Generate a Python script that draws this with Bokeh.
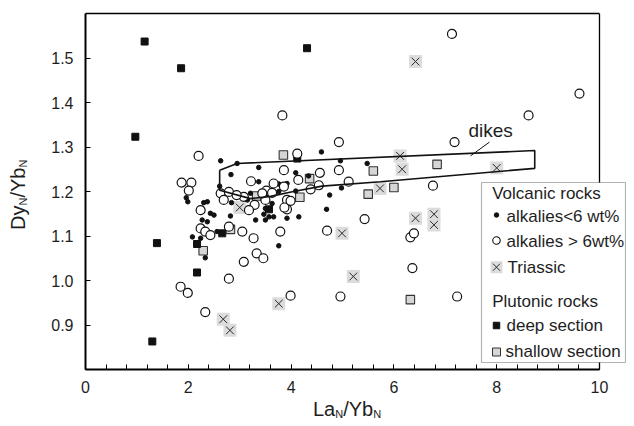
from bokeh.plotting import figure
from bokeh.layouts import row, column
from bokeh.models import (Range1d, FixedTicker, Label, BoxAnnotation, PrintfTickFormatter,
                          Div, Span, LinearAxis)
from bokeh.embed import file_html
from bokeh.resources import INLINE

# ---------------- data ----------------
deep_x = [1.15, 1.86, 0.97, 4.31, 1.39, 2.17, 1.30, 2.17, 2.66, 3.57, 4.12]
deep_y = [1.537, 1.477, 1.323, 1.522, 1.084, 1.018, 0.863, 1.082, 1.106, 1.160, 1.274]

shallow_x = [3.85, 4.36, 4.17, 5.60, 5.50, 6.84, 6.00, 3.33, 2.82, 2.29, 6.32]
shallow_y = [1.282, 1.229, 1.187, 1.246, 1.194, 1.261, 1.209, 1.190, 1.115, 1.067, 0.957]

tri_x = [6.42, 6.12, 6.16, 8.00, 5.73, 6.42, 6.78, 6.78, 4.99, 5.21, 3.76, 2.68, 2.81, 3.00]
tri_y = [1.492, 1.280, 1.250, 1.253, 1.207, 1.140, 1.149, 1.125, 1.106, 1.009, 0.948, 0.913, 0.888, 1.164]

hi_x = [7.13, 9.61, 8.62, 7.18, 4.93, 6.76, 4.93, 5.12, 4.56, 4.54, 4.38, 5.43, 4.70, 6.32, 6.39,
        6.36, 4.96, 7.23, 3.99, 2.79, 1.85, 1.99, 2.33, 3.08, 3.33, 3.46, 3.79, 3.27, 3.05, 2.79,
        2.24, 2.33, 2.43, 2.24, 3.92, 2.20, 3.83, 4.12, 1.87, 2.06, 2.01, 3.22, 3.86, 4.14, 3.66,
        3.86, 3.52, 3.29, 3.08, 2.63, 2.79, 2.69, 3.92, 3.87, 2.94, 3.18, 3.50, 3.99, 3.44, 3.63]
hi_y = [1.554, 1.420, 1.371, 1.311, 1.311, 1.213, 1.248, 1.222, 1.242, 1.214, 1.205, 1.138, 1.112, 1.097, 1.106,
        1.028, 0.964, 0.964, 0.966, 1.004, 0.986, 0.972, 0.929, 1.042, 1.061, 1.050, 1.110, 1.095, 1.110, 1.121,
        1.117, 1.110, 1.102, 1.158, 1.160, 1.280, 1.371, 1.285, 1.220, 1.220, 1.202, 1.223, 1.248, 1.226, 1.218,
        1.211, 1.202, 1.170, 1.188, 1.196, 1.199, 1.181, 1.181, 1.164, 1.192, 1.158, 1.181, 1.179, 1.196, 1.197]

lo_x = [2.63, 2.95, 3.37, 2.83, 2.61, 3.37, 3.76, 3.92, 4.09, 4.09, 1.96, 1.99, 2.30, 2.37, 2.43,
        2.50, 2.27, 2.37, 2.82, 3.31, 3.50, 3.57, 3.66, 3.92, 4.15, 2.08, 2.24, 2.56, 2.33, 3.76,
        3.21, 4.59, 4.96, 5.48, 4.34, 4.98, 4.75, 4.69, 3.60, 2.84, 3.15, 3.63, 3.50, 3.47, 3.76]
lo_y = [1.269, 1.263, 1.254, 1.238, 1.212, 1.222, 1.217, 1.218, 1.242, 1.201, 1.186, 1.177, 1.175, 1.177, 1.151,
        1.147, 1.136, 1.132, 1.145, 1.136, 1.136, 1.143, 1.143, 1.140, 1.143, 1.098, 1.095, 1.110, 1.051, 1.078,
        1.196, 1.289, 1.269, 1.263, 1.235, 1.208, 1.192, 1.160, 1.197, 1.175, 1.181, 1.173, 1.162, 1.149, 1.200]

dike_x = [2.61, 2.95, 8.74, 8.74, 5.74, 4.60, 4.00, 3.60, 3.21, 2.61, 2.61]
dike_y = [1.248, 1.263, 1.292, 1.252, 1.222, 1.212, 1.199, 1.189, 1.184, 1.203, 1.248]

leader_x = [7.86, 7.49]
leader_y = [1.311, 1.280]

x_ticks = [0, 2, 4, 6, 8, 10]
y_ticks = [0.9, 1.0, 1.1, 1.2, 1.3, 1.4, 1.5]

legend_labels = ["Volcanic rocks", "alkalies<6 wt%", "alkalies > 6wt%", "Triassic",
                 "Plutonic rocks", "deep section", "shallow section"]

# ---------------- layout (page pixels) ----------------
YDIV_W = 30            # column holding the rotated y title
PW, PH = 596, 400      # figure canvas
XDIV_H = 18            # strip holding the x title
FL, FT = 85, 13        # frame left / top (page pixels)
PX_PER_X = 51.4        # pixels per x unit (0..10 -> 514 px)
FH = 356               # frame height
X0, XMAIN, Y0, Y1 = 0.0, 10.0, 0.8, 1.6
FRAME_R = YDIV_W + PW
X_END = X0 + (FRAME_R - FL) / PX_PER_X
FONT = "Liberation Sans"
TXT = "#1e1e1e"
LBL_SHIFT = 5.5        # canvas labels sit a little low with the alphabetic baseline


def px2x(px):
    return X0 + (px - FL) / PX_PER_X


def py2y(py):
    return Y1 - (py - FT) / FH * (Y1 - Y0)


def sx(px):  # screen units relative to frame left
    return px - FL


def sy(py):  # screen units upward from frame bottom
    return FT + FH - py


p = figure(width=PW, height=PH, output_backend="svg", toolbar_location=None,
           x_range=Range1d(X0, X_END), y_range=Range1d(Y0, Y1),
           min_border_left=FL - YDIV_W, min_border_right=0,
           min_border_top=FT, min_border_bottom=PH - FT - FH)
p.grid.visible = False
p.background_fill_color = "white"
p.border_fill_color = "white"
p.outline_line_color = None

p.xaxis.ticker = FixedTicker(ticks=x_ticks, minor_ticks=[0.4 * i for i in range(26)])
p.xaxis.bounds = (X0, XMAIN)
p.yaxis.ticker = FixedTicker(ticks=y_ticks, minor_ticks=[])
p.yaxis.formatter = PrintfTickFormatter(format="%.1f")
for ax in (p.xaxis, p.yaxis):
    ax.axis_line_width = 2
    ax.axis_line_color = "black"
    ax.major_tick_in = 5
    ax.major_tick_out = 0
    ax.minor_tick_in = 5
    ax.minor_tick_out = 0
    ax.major_tick_line_color = "black"
    ax.minor_tick_line_color = "black"
    ax.major_label_text_font = FONT
    ax.major_label_text_font_size = "16px"
    ax.major_label_text_color = TXT
p.xaxis.major_label_standoff = 11
p.yaxis.major_label_standoff = 12

# top and right border of the plotting box (box ends at x = 10)
top_axis = LinearAxis(bounds=(X0, XMAIN), ticker=FixedTicker(ticks=[], minor_ticks=[]),
                      axis_line_width=1.3, axis_line_color="black",
                      major_tick_in=0, major_tick_out=0, minor_tick_in=0, minor_tick_out=0)
p.add_layout(top_axis, "above")
p.add_layout(Span(location=XMAIN, dimension="height", line_color="black", line_width=1.3))

# ---------------- data marks ----------------
p.scatter(tri_x, tri_y, marker="square", size=13, fill_color="#dcdcdc", line_color=None)
p.scatter(tri_x, tri_y, marker="x", size=11, line_color="#2a2a2a", line_width=1)
p.scatter(shallow_x, shallow_y, marker="square", size=8.5, fill_color="#d6d6d6",
          line_color="#333333", line_width=1.1)
p.scatter(deep_x, deep_y, marker="square", size=7, fill_color="#111111", line_color="#111111")
p.scatter(lo_x, lo_y, marker="circle", size=4.5, fill_color="#111111", line_color="#111111")
p.scatter(hi_x, hi_y, marker="circle", size=9, fill_color="white", line_color="#111111", line_width=1.2)

p.line(dike_x, dike_y, line_color="#111111", line_width=1.6)
p.line(leader_x, leader_y, line_color="#111111", line_width=1)
p.add_layout(Label(x=sx(468), y=sy(135 - LBL_SHIFT), x_units="screen", y_units="screen",
                   text="dikes", text_font=FONT, text_font_size="19px",
                   text_color=TXT, text_baseline="alphabetic"))

# ---------------- legend ----------------
p.add_layout(BoxAnnotation(left=sx(481), right=sx(625), top=sy(182), bottom=sy(362),
                           left_units="screen", right_units="screen",
                           top_units="screen", bottom_units="screen",
                           fill_color="white", fill_alpha=1.0, line_color="black", line_width=1.2))
lg_base = [198.3, 221.5, 246.0, 272.3, 306.7, 330.5, 356.5]
lg_left = [491.7, 506, 506, 507, 491.7, 506, 505]
for t, b, l in zip(legend_labels, lg_base, lg_left):
    p.add_layout(Label(x=sx(l), y=sy(b - LBL_SHIFT), x_units="screen", y_units="screen",
                       text=t, text_font=FONT, text_font_size="17px",
                       text_color=TXT, text_baseline="alphabetic", level="overlay"))
MX = px2x(496)
p.scatter([MX], [py2y(214.5)], marker="circle", size=4.5, fill_color="#111111",
          line_color="#111111", level="overlay")
p.scatter([MX], [py2y(240.0)], marker="circle", size=7.5, fill_color="white",
          line_color="#111111", line_width=1.1, level="overlay")
p.scatter([MX], [py2y(266.7)], marker="square", size=12, fill_color="#dcdcdc",
          line_color=None, level="overlay")
p.scatter([MX], [py2y(266.7)], marker="x", size=10, line_color="#2a2a2a", line_width=1,
          level="overlay")
p.scatter([MX], [py2y(325.0)], marker="square", size=6.5, fill_color="#111111",
          line_color="#111111", level="overlay")
p.scatter([MX], [py2y(351.5)], marker="square", size=8, fill_color="#d6d6d6",
          line_color="#333333", line_width=1, level="overlay")

# ---------------- axis titles (real text with subscripts) ----------------
SUB = "font-size:11px;vertical-align:-2px;line-height:1;"
MAIN = ("font-family:'Liberation Sans';font-size:20px;line-height:1;color:%s;"
        "white-space:nowrap;" % TXT)
y_title = ("Dy<sub style='%s'>N</sub>/Yb<sub style='%s'>N</sub>" % (SUB, SUB))
x_title = ("La<sub style='%s'>N</sub>/Yb<sub style='%s'>N</sub>" % (SUB, SUB))

ydiv = Div(width=YDIV_W, height=PH, margin=0,
           text=("<div style='position:relative;width:%dpx;height:%dpx;'>"
                 "<span style=\"position:absolute;left:8px;top:230px;transform:rotate(-90deg);"
                 "transform-origin:0 0;%s\">%s</span></div>") % (YDIV_W, PH, MAIN, y_title))
xdiv = Div(width=YDIV_W + PW, height=XDIV_H, margin=0,
           text=("<div style='position:relative;width:%dpx;height:%dpx;'>"
                 "<span style=\"position:absolute;left:313px;top:-1px;%s\">%s</span></div>")
                % (YDIV_W + PW, XDIV_H, MAIN, x_title))

layout = column(row(ydiv, p, spacing=0), xdiv, spacing=0)
open("out.html", "w").write(file_html(layout, INLINE))
